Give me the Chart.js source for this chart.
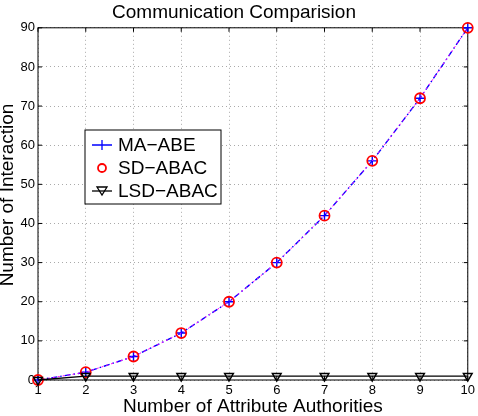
<!DOCTYPE html>
<html>
<head>
<meta charset="utf-8">
<script src="https://cdn.jsdelivr.net/npm/chart.js@4"></script>
<style>
  body { margin: 0; background: #fff; }
  #wrap { width: 478px; height: 416px; }
</style>
</head>
<body>
<div id="wrap"><canvas id="myChart" width="478" height="416"></canvas></div>
<script>
const authorities = [1, 2, 3, 4, 5, 6, 7, 8, 9, 10];
const maAbe = [0, 2, 6, 12, 20, 30, 42, 56, 72, 90];
const sdAbac = [0, 2, 6, 12, 20, 30, 42, 56, 72, 90];
const lsdAbac = [0, 1, 1, 1, 1, 1, 1, 1, 1, 1];
const yTicks = [0, 10, 20, 30, 40, 50, 60, 70, 80, 90];

const font = 'Liberation Sans, Arial, sans-serif';

const toXY = (vals) => vals.map((v, i) => ({ x: authorities[i], y: v }));

// box, inner ticks, y title and legend drawn like the matlab figure
const frame = {
  id: 'frame',
  beforeDatasetsDraw(chart) {
    const { ctx, chartArea: a, scales } = chart;
    ctx.save();
    ctx.strokeStyle = '#000';
    ctx.lineWidth = 1;
    ctx.strokeRect(a.left, a.top, a.right - a.left, a.bottom - a.top);
    // small inside ticks
    authorities.forEach(v => {
      const x = scales.x.getPixelForValue(v);
      ctx.beginPath();
      ctx.moveTo(x, a.bottom); ctx.lineTo(x, a.bottom - 4);
      ctx.moveTo(x, a.top); ctx.lineTo(x, a.top + 4);
      ctx.stroke();
    });
    yTicks.forEach(v => {
      const y = scales.y.getPixelForValue(v);
      ctx.beginPath();
      ctx.moveTo(a.left, y); ctx.lineTo(a.left + 4, y);
      ctx.moveTo(a.right, y); ctx.lineTo(a.right - 4, y);
      ctx.stroke();
    });
    ctx.restore();
  },
  afterDatasetsDraw(chart) {
    const { ctx, chartArea: a } = chart;
    ctx.save();
    // y axis title, partly off the left edge like the original
    ctx.save();
    ctx.translate(13, 195);
    ctx.rotate(-Math.PI / 2);
    ctx.fillStyle = '#000';
    ctx.font = '19px ' + font;
    ctx.textAlign = 'center';
    ctx.textBaseline = 'alphabetic';
    ctx.fillText('Number of Interaction', 0, 0);
    ctx.restore();

    // legend
    const lx = 85, ly = 130, lw = 136, lh = 74;
    ctx.strokeStyle = '#000';
    ctx.lineWidth = 1;
    ctx.fillStyle = '#fff';
    ctx.fillRect(lx, ly, lw, lh);
    ctx.strokeRect(lx, ly, lw, lh);
    ctx.font = '19px ' + font;
    ctx.textBaseline = 'middle';
    ctx.textAlign = 'left';
    const mx = 102;
    const rows = [
      { label: 'MA\u2212ABE', y: 145 },
      { label: 'SD\u2212ABAC', y: 168 },
      { label: 'LSD\u2212ABAC', y: 191 }
    ];
    // MA-ABE: line + cross
    ctx.strokeStyle = '#0000ff';
    ctx.lineWidth = 1.3;
    ctx.beginPath();
    ctx.moveTo(mx - 10, rows[0].y); ctx.lineTo(mx + 10, rows[0].y);
    ctx.moveTo(mx, rows[0].y - 5); ctx.lineTo(mx, rows[0].y + 5);
    ctx.stroke();
    // SD-ABAC: circle
    ctx.strokeStyle = '#ff0000';
    ctx.lineWidth = 1.8;
    ctx.beginPath();
    ctx.arc(mx, rows[1].y, 4, 0, Math.PI * 2);
    ctx.stroke();
    // LSD-ABAC: line + triangle down
    ctx.strokeStyle = '#000';
    ctx.lineWidth = 1.3;
    ctx.beginPath();
    ctx.moveTo(mx - 10, rows[2].y); ctx.lineTo(mx + 10, rows[2].y);
    ctx.stroke();
    ctx.beginPath();
    ctx.moveTo(mx - 5, rows[2].y - 4);
    ctx.lineTo(mx + 5, rows[2].y - 4);
    ctx.lineTo(mx, rows[2].y + 4);
    ctx.closePath();
    ctx.stroke();
    ctx.fillStyle = '#000';
    rows.forEach(r => ctx.fillText(r.label, 118, r.y + 1));
    ctx.restore();
  }
};

const data = {
  datasets: [
    {
      label: 'LSD-ABAC',
      data: toXY(lsdAbac),
      clip: false,
      borderColor: '#000',
      borderWidth: 1.3,
      pointStyle: 'triangle',
      rotation: 180,
      pointRadius: 5,
      pointBorderColor: '#000',
      pointBackgroundColor: 'rgba(0,0,0,0)',
      pointBorderWidth: 1.5
    },
    {
      label: 'SD-ABAC',
      data: toXY(sdAbac),
      clip: false,
      borderColor: '#ff00ff',
      borderWidth: 1,
      borderDash: [2, 3],
      pointStyle: 'circle',
      pointRadius: 5,
      pointBorderColor: '#ff0000',
      pointBackgroundColor: 'rgba(0,0,0,0)',
      pointBorderWidth: 1.8
    },
    {
      label: 'MA-ABE',
      data: toXY(maAbe),
      clip: false,
      borderColor: '#0000ff',
      borderWidth: 1.4,
      borderDash: [6, 3, 1.5, 3],
      pointStyle: 'cross',
      pointRadius: 5,
      pointBorderColor: '#0000ff',
      pointBorderWidth: 1.4
    }
  ]
};

const config = {
  type: 'line',
  data: data,
  plugins: [frame],
  options: {
    responsive: false,
    animation: false,
    layout: { padding: { right: 10 } },
    plugins: {
      legend: { display: false },
      tooltip: { enabled: false },
      title: {
        display: true,
        text: 'Communication Comparision',
        color: '#000',
        font: { family: font, size: 19, weight: 'normal' },
        padding: { top: 1, bottom: 4 }
      }
    },
    scales: {
      x: {
        type: 'linear',
        min: 1,
        max: 10,
        afterFit: (s) => { s.height = 36; },
        afterBuildTicks: (s) => { s.ticks = authorities.map(v => ({ value: v })); },
        ticks: { color: '#000', font: { family: font, size: 13 }, padding: 3 },
        grid: { color: '#aaa', drawTicks: false, tickLength: 0 },
        border: { display: false, dash: [1, 3] },
        title: {
          display: true,
          text: 'Number of Attribute Authorities',
          color: '#000',
          font: { family: font, size: 19 },
          padding: { top: 0, bottom: -2 }
        }
      },
      y: {
        min: 0,
        max: 90,
        afterFit: (s) => { s.width = 38; },
        afterBuildTicks: (s) => { s.ticks = yTicks.map(v => ({ value: v })); },
        ticks: { color: '#000', font: { family: font, size: 13 }, padding: 3 },
        grid: { color: '#aaa', drawTicks: false, tickLength: 0 },
        border: { display: false, dash: [1, 3] }
      }
    }
  }
};

new Chart(document.getElementById('myChart'), config);
</script>
</body>
</html>
